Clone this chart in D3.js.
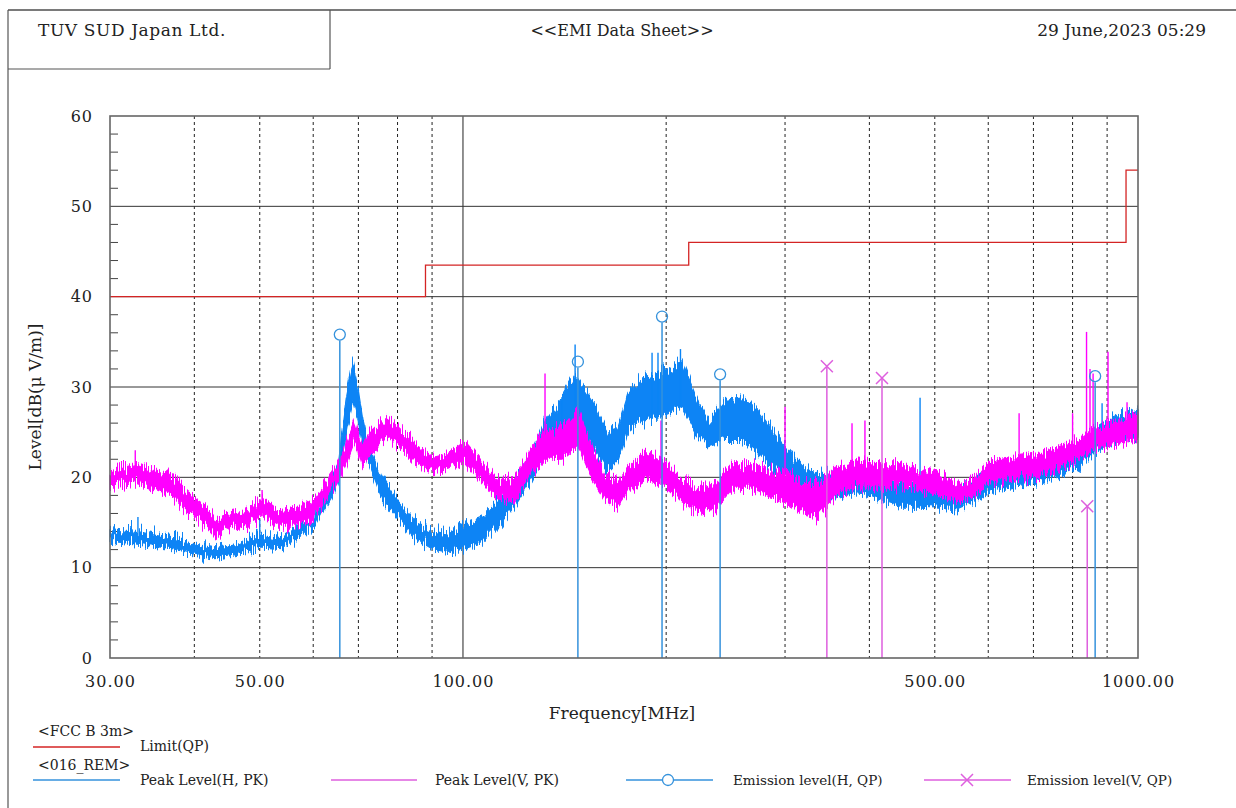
<!DOCTYPE html>
<html><head><meta charset="utf-8">
<script src="https://cdn.jsdelivr.net/npm/d3@7"></script>
<style>
html,body{margin:0;padding:0;background:#fff;}
svg{display:block;}
text{font-family:"DejaVu Serif","Liberation Serif",serif;fill:#222;}
</style></head>
<body>
<svg id="chart" width="1236" height="808"></svg>
<script>
// ---------------- data ----------------
const headerLeft = "TUV SUD Japan Ltd.";
const headerTitle = "<<EMI Data Sheet>>";
const headerDate = "29 June,2023 05:29";
const xTickValues = [30, 50, 100, 500, 1000];
const yTickValues = [0, 10, 20, 30, 40, 50, 60];
const xTitle = "Frequency[MHz]";
const yTitle = "Level[dB(\u03bc V/m)]";

// Limit (QP) FCC B 3m : frequency breakpoints and levels
const limitFreq  = [30, 88, 88, 216, 216, 960, 960, 1000];
const limitLevel = [40, 40, 43.5, 43.5, 46, 46, 54, 54];

// Peak Level (H, PK): frequency, lower / upper edge of the noisy trace
const hFreq = [30,30.2,33.0,37.1,40.1,42.9,46.4,50.0,53.9,57.0,60.4,64.0,65.3,66.2,67.3,68.7,69.9,71.1,72.3,75.9,80.1,84.9,90.0,95.0,100.7,106.7,112.7,119.4,126.6,132.3,138.3,146.6,155.3,164.0,169.7,175.6,184.2,194.5,211.1,220.7,230.7,244.4,259.0,273.6,290.0,307.2,324.7,343.9,384.9,412.0,444.0,475.5,509.2,539.3,569.8,603.9,653.2,708.6,758.8,820.6,857.9,918.4,1000];
const hLow  = [13.0,12.9,12.6,12.1,11.5,11.0,11.5,12.3,12.1,13.2,14.6,17.9,19.6,22.0,25.3,28.6,26.4,23.5,21.7,17.6,15.7,13.2,12.1,11.7,12.1,12.8,14.6,16.8,19.8,22.8,23.5,26.3,23.5,20.6,21.7,25.2,26.3,26.7,27.8,24.9,23.5,24.1,24.1,22.7,20.6,19.5,18.4,17.6,18.4,17.6,16.8,16.8,16.7,16.5,17.3,18.4,19.0,19.5,20.1,21.2,22.7,23.8,24.6];
const hHigh = [14.3,14.4,14.1,13.3,12.6,12.2,12.7,13.7,13.3,14.4,15.9,19.6,21.0,25.1,29.2,32.6,29.9,26.2,23.7,19.9,17.4,15.2,14.1,13.7,14.8,15.5,17.4,19.6,22.6,26.2,28.1,31.4,28.5,25.1,25.5,29.2,31.0,31.4,32.9,29.2,26.2,28.5,28.8,27.4,24.8,22.6,20.7,20.4,20.7,20.4,19.3,19.3,18.8,18.5,19.3,20.7,21.5,21.8,22.6,23.7,25.1,26.6,27.7];
// isolated spikes above the H trace
const hSpikeFreq  = [33.0,50.0,60.4,140.2,146.6,190.6,194.5,210.0,475.5,884.7];
const hSpikeLevel = [15.6,15.3,16.8,28.9,34.7,33.8,33.8,34.2,28.8,28.2];

// Peak Level (V, PK)
const vFreq = [30,30.2,32.7,35.0,37.1,39.1,41.1,42.9,44.9,47.5,50.4,53.2,57.0,60.4,64.0,66.9,69.2,70.9,72.3,76.7,80.1,84.9,90.0,95.0,100.7,106.7,112.7,119.4,126.6,132.3,140.2,148.1,155.3,162.4,169.7,175.6,186.1,199.2,211.1,222.9,236.3,250.4,268.0,283.1,300,318.0,335.8,355.9,384.9,412.0,444.0,475.5,509.2,539.3,569.8,603.9,653.2,708.6,758.8,820.6,857.9,918.4,1000];
const vLow  = [19.0,19.0,19.5,18.7,17.9,16.1,15.0,13.5,14.3,14.6,15.7,14.6,14.6,15.7,18.7,21.2,24.1,21.2,22.0,24.5,23.5,21.7,20.6,20.9,21.7,19.5,17.6,17.3,20.6,22.0,22.0,23.5,19.8,17.6,16.8,18.4,19.8,19.0,17.3,16.1,16.5,18.7,18.7,17.9,17.3,16.1,15.7,17.9,19.0,18.7,19.0,18.7,17.9,17.3,17.9,19.5,19.8,20.1,20.9,22.0,23.1,23.5,24.2];
const vHigh = [20.9,21.0,21.5,20.7,20.4,18.2,17.1,15.5,15.9,16.3,17.7,16.3,16.6,17.7,20.4,23.3,26.2,23.3,24.8,26.6,25.5,23.7,22.2,22.6,24.0,21.8,19.6,19.9,23.3,25.1,25.5,27.7,23.3,20.4,19.6,21.0,22.9,21.8,19.9,18.8,19.3,21.5,21.5,20.7,20.7,19.3,19.3,21.0,21.8,21.5,21.5,21.0,20.4,19.3,19.9,21.8,22.2,22.6,23.3,24.4,25.5,25.9,27.0];
const vSpikeFreq  = [32.7,50.4,132.3,196.5,300,377,394,666.6,800,839,849,858,902.8,963.3];
const vSpikeLevel = [23.0,18.6,31.5,26.3,27.8,26.0,26.3,27.1,27.1,36.1,32.0,31.5,33.9,28.3];

// Emission level (H, QP)
const emHFreq  = [65.7, 148.0, 197.2, 240.4, 864.0];
const emHLevel = [35.8, 32.8, 37.8, 31.4, 31.2];
// Emission level (V, QP)
const emVFreq  = [346.0, 417.6, 841.0];
const emVLevel = [32.3, 31.0, 16.8];

const legendLabels = ["Limit(QP)","Peak Level(H, PK)","Peak Level(V, PK)","Emission level(H, QP)","Emission level(V, QP)"];
const legendGroups = ["<FCC B 3m>","<016_REM>"];

// ---------------- drawing ----------------
const COL_H = "#0a84f5", COL_V = "#ff00ff", COL_LIM = "#d42424";
const COL_HSTEM = "#3592dc", COL_VSTEM = "#de5fde";
const svg = d3.select("#chart");
const L = 110, R = 1138, T = 116, B = 658;
const x = d3.scaleLog().domain([30, 1000]).range([L, R]);
const y = d3.scaleLinear().domain([0, 60]).range([B, T]);

// rendering filter: roughens band edges vertically (visual texture only)
const defs = svg.append("defs");
function roughFilter(id, seed, scale){
  const f = defs.append("filter").attr("id",id)
    .attr("filterUnits","userSpaceOnUse").attr("x",0).attr("y",0).attr("width",1236).attr("height",808);
  f.append("feTurbulence").attr("type","fractalNoise").attr("baseFrequency","0.9 0.02")
    .attr("numOctaves",2).attr("seed",seed).attr("result","noise");
  f.append("feColorMatrix").attr("in","noise").attr("type","matrix")
    .attr("values","0 0 0 0 0.5  0 1 0 0 0  0 0 1 0 0  0 0 0 0 1").attr("result","n2");
  f.append("feDisplacementMap").attr("in","SourceGraphic").attr("in2","n2")
    .attr("scale",scale).attr("xChannelSelector","R").attr("yChannelSelector","G");
}
roughFilter("roughH", 3, 26);
roughFilter("roughV", 11, 26);

// page frame
svg.append("line").attr("x1",8).attr("x2",1236).attr("y1",10).attr("y2",10).attr("stroke","#7a7a7a").attr("stroke-width",2);
svg.append("line").attr("x1",8).attr("x2",8).attr("y1",10).attr("y2",808).attr("stroke","#555").attr("stroke-width",1.2);
svg.append("line").attr("x1",330).attr("x2",330).attr("y1",10).attr("y2",69).attr("stroke","#555").attr("stroke-width",1.2);
svg.append("line").attr("x1",8).attr("x2",330).attr("y1",69).attr("y2",69).attr("stroke","#555").attr("stroke-width",1.2);
svg.append("text").attr("x",38).attr("y",36).attr("font-size",17).attr("letter-spacing",0.6).text(headerLeft);
svg.append("text").attr("x",622).attr("y",36).attr("font-size",16).attr("text-anchor","middle").text(headerTitle);
svg.append("text").attr("x",1206).attr("y",36).attr("font-size",17).attr("text-anchor","end").text(headerDate);

// grid
const g = svg.append("g");
const vDashed = [40,50,60,70,80,90,200,300,400,500,600,700,800,900];
g.selectAll(".vd").data(vDashed).join("line")
  .attr("x1",d=>x(d)).attr("x2",d=>x(d)).attr("y1",T).attr("y2",B)
  .attr("stroke","#222").attr("stroke-width",1).attr("stroke-dasharray","3,3");
g.append("line").attr("x1",x(100)).attr("x2",x(100)).attr("y1",T).attr("y2",B).attr("stroke","#555").attr("stroke-width",1.3);
g.selectAll(".hg").data([10,20,30,40,50]).join("line")
  .attr("x1",L).attr("x2",R).attr("y1",d=>y(d)).attr("y2",d=>y(d))
  .attr("stroke","#333").attr("stroke-width",1);
// minor ticks on left axis
g.selectAll(".mt").data(d3.range(2,60,2).filter(d=>d%10!==0)).join("line")
  .attr("x1",L).attr("x2",L+8).attr("y1",d=>y(d)).attr("y2",d=>y(d))
  .attr("stroke","#444").attr("stroke-width",1);

// traces as bands with spikes
const lf = d3.scaleLog().domain([30,1000]).range([0,1]);
function edgeAt(freq, vals, f){
  const i = Math.max(1, d3.bisectLeft(freq, f));
  const f0 = freq[i-1], f1 = freq[Math.min(i, freq.length-1)];
  if (f1 === f0) return vals[i-1];
  const t = (lf(f)-lf(f0))/(lf(f1)-lf(f0));
  return vals[i-1] + t*(vals[i]-vals[i-1]);
}
function trace(freq, lo, hi, sf, sl, col, filt){
  const grp = svg.append("g").attr("filter",`url(#${filt})`);
  const pts = freq.map((f,i)=>({f, lo:lo[i], hi:hi[i]}));
  const area = d3.area().x(d=>x(d.f)).y0(d=>y(d.lo)).y1(d=>y(d.hi));
  grp.append("path").datum(pts).attr("d",area).attr("fill",col).attr("stroke",col).attr("stroke-width",1.2);
  svg.append("g").selectAll("line").data(sf.map((f,i)=>({f, v:sl[i]}))).join("line")
    .attr("x1",d=>x(d.f)).attr("x2",d=>x(d.f))
    .attr("y1",d=>y(d.v)).attr("y2",d=>y(edgeAt(freq, lo, d.f)))
    .attr("stroke",col).attr("stroke-width",1.4);
}
trace(hFreq, hLow, hHigh, hSpikeFreq, hSpikeLevel, COL_H, "roughH");
trace(vFreq, vLow, vHigh, vSpikeFreq, vSpikeLevel, COL_V, "roughV");

// limit line
const lim = limitFreq.map((f,i)=>({f, v:limitLevel[i]}));
svg.append("path").datum(lim).attr("d", d3.line().x(d=>x(d.f)).y(d=>y(d.v)))
  .attr("fill","none").attr("stroke",COL_LIM).attr("stroke-width",1.3);

// emission stems + markers
const emH = emHFreq.map((f,i)=>({f, v:emHLevel[i]}));
const emV = emVFreq.map((f,i)=>({f, v:emVLevel[i]}));
svg.selectAll(null).data(emH).join("line")
  .attr("x1",d=>x(d.f)).attr("x2",d=>x(d.f)).attr("y1",d=>y(d.v)+6).attr("y2",B)
  .attr("stroke",COL_HSTEM).attr("stroke-width",1.5);
svg.selectAll(null).data(emH).join("circle")
  .attr("cx",d=>x(d.f)).attr("cy",d=>y(d.v)).attr("r",5.5)
  .attr("fill","none").attr("stroke",COL_HSTEM).attr("stroke-width",1.3);
svg.selectAll(null).data(emV).join("line")
  .attr("x1",d=>x(d.f)).attr("x2",d=>x(d.f)).attr("y1",d=>y(d.v)).attr("y2",B)
  .attr("stroke",COL_VSTEM).attr("stroke-width",1.5);
const xMark = (cx, cy, s) => `M${cx-s},${cy-s}L${cx+s},${cy+s}M${cx-s},${cy+s}L${cx+s},${cy-s}`;
svg.selectAll(null).data(emV).join("path")
  .attr("d",d=>xMark(x(d.f), y(d.v), 6))
  .attr("fill","none").attr("stroke",COL_VSTEM).attr("stroke-width",1.5);

// plot frame
svg.append("rect").attr("x",L).attr("y",T).attr("width",R-L).attr("height",B-T)
  .attr("fill","none").attr("stroke","#666").attr("stroke-width",1.6);

// axes
const xAxis = d3.axisBottom(x).tickValues(xTickValues).tickSize(0).tickPadding(18).tickFormat(d=>d.toFixed(2));
const xa = svg.append("g").attr("transform",`translate(0,${B})`).call(xAxis);
xa.select(".domain").remove();
xa.selectAll("text").attr("font-size",16).attr("letter-spacing",1).attr("fill","#222")
  .attr("font-family",'"DejaVu Serif","Liberation Serif",serif');
const yAxis = d3.axisLeft(y).tickValues(yTickValues).tickSize(0).tickPadding(17).tickFormat(d3.format("d"));
const ya = svg.append("g").attr("transform",`translate(${L},0)`).call(yAxis);
ya.select(".domain").remove();
ya.selectAll("text").attr("font-size",16).attr("letter-spacing",1).attr("fill","#222")
  .attr("font-family",'"DejaVu Serif","Liberation Serif",serif');

svg.append("text").attr("x",622).attr("y",719).attr("font-size",17).attr("text-anchor","middle").text(xTitle);
svg.append("text").attr("transform","translate(41,397) rotate(-90)").attr("font-size",17).attr("text-anchor","middle").text(yTitle);

// legend
const lg = svg.append("g").attr("font-size",14);
lg.append("text").attr("x",38).attr("y",736).text(legendGroups[0]);
lg.append("line").attr("x1",33).attr("x2",120).attr("y1",747).attr("y2",747).attr("stroke",COL_LIM).attr("stroke-width",1.3);
lg.append("text").attr("x",140).attr("y",751).text(legendLabels[0]);
lg.append("text").attr("x",38).attr("y",770).text(legendGroups[1]);
lg.append("line").attr("x1",33).attr("x2",120).attr("y1",780).attr("y2",780).attr("stroke",COL_HSTEM).attr("stroke-width",1.3);
lg.append("text").attr("x",140).attr("y",785).text(legendLabels[1]);
lg.append("line").attr("x1",331).attr("x2",417).attr("y1",780).attr("y2",780).attr("stroke",COL_VSTEM).attr("stroke-width",1.3);
lg.append("text").attr("x",435).attr("y",785).text(legendLabels[2]);
lg.append("line").attr("x1",626).attr("x2",713).attr("y1",780).attr("y2",780).attr("stroke",COL_HSTEM).attr("stroke-width",1.3);
lg.append("circle").attr("cx",668).attr("cy",780).attr("r",5.5).attr("fill","#fff").attr("stroke",COL_HSTEM).attr("stroke-width",1.3);
lg.append("text").attr("x",733).attr("y",785).attr("font-size",13.5).text(legendLabels[3]);
lg.append("line").attr("x1",924).attr("x2",1011).attr("y1",780).attr("y2",780).attr("stroke",COL_VSTEM).attr("stroke-width",1.3);
lg.append("path").attr("d",xMark(967,780,6)).attr("stroke",COL_VSTEM).attr("stroke-width",1.5).attr("fill","none");
lg.append("text").attr("x",1027).attr("y",785).attr("font-size",13.5).text(legendLabels[4]);
</script>
</body></html>
